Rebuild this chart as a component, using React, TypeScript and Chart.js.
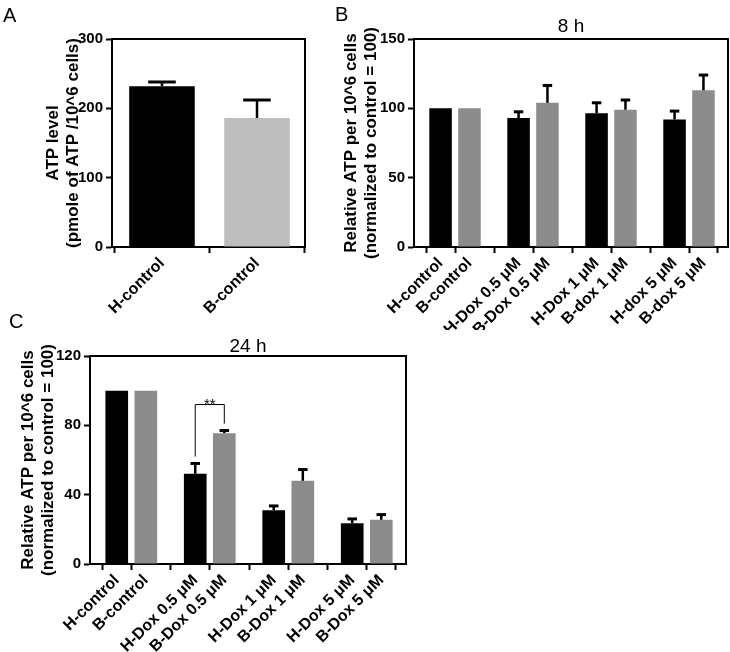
import React, { useEffect, useRef } from 'react';
import { Chart, registerables } from 'chart.js';

Chart.register(...registerables);

const FONT = "'Liberation Sans', Arial, Helvetica, sans-serif";

// ---------- Panel A ----------
const aCategories = ['H-control', 'B-control'];
const aValues = [232, 186];
const aErrors = [6, 26];
const aTicks = [0, 100, 200, 300];
const aTitle = ['ATP level', '(pmole of ATP /10^6 cells)'];

// ---------- Panel B (8 h) ----------
const bCategories = [
  'H-control', 'B-control',
  'H-Dox 0.5 \u03bcM', 'B-Dox 0.5 \u03bcM',
  'H-Dox 1 \u03bcM', 'B-dox 1 \u03bcM',
  'H-dox 5 \u03bcM', 'B-dox 5 \u03bcM',
];
const bValues8h = [100, 100, 93, 104, 96.5, 99, 92, 113];
const bErrors8h = [0, 0, 4.5, 12.5, 7.5, 7, 6, 11];
const bTicks = [0, 50, 100, 150];
const bHeading = '8 h';

// ---------- Panel C (24 h) ----------
const cCategories = [
  'H-control', 'B-control',
  'H-Dox 0.5 \u03bcM', 'B-Dox 0.5 \u03bcM',
  'H-Dox 1 \u03bcM', 'B-Dox 1 \u03bcM',
  'H-Dox 5 \u03bcM', 'B-Dox 5 \u03bcM',
];
const cValues24h = [100, 100, 52, 75.5, 31, 48, 23.5, 25.5];
const cErrors24h = [0, 0, 6, 1.5, 2.5, 6.5, 2.5, 3];
const cTicks = [0, 40, 80, 120];
const cHeading = '24 h';
const cSignificance = [{ from: 2, to: 3, top: 92, leftEnd: 62, rightEnd: 81, label: '**' }];

const relTitle = ['Relative ATP per 10^6 cells', '(normalized to control = 100)'];

// ---------- layout helpers ----------
const GROUP_GAP = 0.7;
const slotPos = (i: number) => i + Math.floor(i / 2) * GROUP_GAP;

const framePlugin = {
  id: 'frameBox',
  afterDraw(chart: any) {
    const { ctx, chartArea: a } = chart;
    ctx.save();
    ctx.strokeStyle = '#000';
    ctx.lineWidth = 2;
    ctx.beginPath();
    ctx.moveTo(a.left - 1, a.top);
    ctx.lineTo(a.right, a.top);
    ctx.lineTo(a.right, a.bottom + 1);
    ctx.stroke();
    ctx.restore();
  },
};

const errorBarPlugin = {
  id: 'errBars',
  afterDatasetsDraw(chart: any, _args: any, opts: any) {
    const errors: number[] = opts.errors || [];
    const meta = chart.getDatasetMeta(0);
    const ys = chart.scales.y;
    const values = chart.data.datasets[0].data;
    const ctx = chart.ctx;
    ctx.save();
    ctx.strokeStyle = '#000';
    meta.data.forEach((el: any, i: number) => {
      const e = errors[i];
      if (!e) return;
      const v = typeof values[i] === 'object' ? values[i].y : values[i];
      const yb = ys.getPixelForValue(v);
      const yt = ys.getPixelForValue(v + e);
      const cap = el.width * 0.42;
      ctx.lineWidth = 2.5;
      ctx.beginPath();
      ctx.moveTo(el.x, yb);
      ctx.lineTo(el.x, yt);
      ctx.stroke();
      ctx.lineWidth = 3;
      ctx.beginPath();
      ctx.moveTo(el.x - cap / 2, yt);
      ctx.lineTo(el.x + cap / 2, yt);
      ctx.stroke();
    });
    ctx.restore();
  },
};

const bracketPlugin = {
  id: 'sigBrackets',
  afterDatasetsDraw(chart: any, _args: any, opts: any) {
    const items = opts.items || [];
    const xs = chart.scales.x;
    const ys = chart.scales.y;
    const ctx = chart.ctx;
    items.forEach((b: any) => {
      const x1 = xs.getPixelForValue(slotPos(b.from));
      const x2 = xs.getPixelForValue(slotPos(b.to));
      const yt = ys.getPixelForValue(b.top);
      const yl = ys.getPixelForValue(b.leftEnd);
      const yr = ys.getPixelForValue(b.rightEnd);
      ctx.save();
      ctx.strokeStyle = '#000';
      ctx.lineWidth = 1;
      ctx.beginPath();
      ctx.moveTo(x1, yl);
      ctx.lineTo(x1, yt);
      ctx.lineTo(x2, yt);
      ctx.lineTo(x2, yr);
      ctx.stroke();
      ctx.fillStyle = '#000';
      ctx.font = `15px ${FONT}`;
      ctx.textAlign = 'center';
      ctx.textBaseline = 'alphabetic';
      ctx.fillText(b.label, (x1 + x2) / 2, yt + 4);
      ctx.restore();
    });
  },
};

type PanelCfg = {
  labels: string[];
  values: number[];
  errors: number[];
  colors: string[];
  yTicks: number[];
  xMin: number;
  xMax: number;
  barPct: number;
  yTitle: string[];
  yTitlePad: number;
  yWidth: number;
  xHeight: number;
  padding: { left: number; top: number; right: number; bottom: number };
  heading?: string;
  headingPad?: { top: number; bottom: number };
  brackets?: any[];
};

function buildChart(canvas: HTMLCanvasElement, cfg: PanelCfg) {
  const positions = cfg.labels.map((_, i) => slotPos(i));
  return new Chart(canvas, {
    type: 'bar',
    data: {
      datasets: [
        {
          data: cfg.values.map((v, i) => ({ x: positions[i], y: v })),
          backgroundColor: cfg.colors,
          borderWidth: 0,
          barPercentage: cfg.barPct,
          categoryPercentage: 1,
        },
      ],
    },
    plugins: [framePlugin, errorBarPlugin, bracketPlugin],
    options: {
      animation: false,
      responsive: false,
      devicePixelRatio: 1,
      layout: { padding: cfg.padding },
      plugins: {
        legend: { display: false },
        tooltip: { enabled: false },
        title: cfg.heading
          ? {
              display: true,
              text: cfg.heading,
              fullSize: false,
              color: '#000',
              font: { family: FONT, size: 19, weight: 'normal', lineHeight: 1 },
              padding: cfg.headingPad,
            }
          : { display: false },
        errBars: { errors: cfg.errors },
        sigBrackets: { items: cfg.brackets || [] },
      } as any,
      scales: {
        x: {
          type: 'linear',
          min: cfg.xMin,
          max: cfg.xMax,
          offset: false,
          afterBuildTicks: (scale: any) => {
            scale.ticks = positions.map((p) => ({ value: p }));
          },
          afterFit: (scale: any) => {
            scale.height = cfg.xHeight;
          },
          ticks: {
            autoSkip: false,
            minRotation: 45,
            maxRotation: 45,
            color: '#000',
            padding: 1,
            font: { family: FONT, size: 16, weight: 'bold' },
            callback: (_v: any, i: number) => cfg.labels[i],
          },
          grid: {
            drawOnChartArea: false,
            drawTicks: true,
            tickLength: 6,
            tickWidth: 2,
            tickColor: '#000',
          },
          border: { display: true, color: '#000', width: 2 },
        },
        y: {
          type: 'linear',
          min: cfg.yTicks[0],
          max: cfg.yTicks[cfg.yTicks.length - 1],
          afterBuildTicks: (scale: any) => {
            scale.ticks = cfg.yTicks.map((v) => ({ value: v }));
          },
          afterFit: (scale: any) => {
            scale.width = cfg.yWidth;
          },
          ticks: { color: '#000', padding: 3, font: { family: FONT, size: 15, weight: 'bold' } },
          grid: {
            drawOnChartArea: false,
            drawTicks: true,
            tickLength: 6,
            tickWidth: 2,
            tickColor: '#000',
          },
          border: { display: true, color: '#000', width: 2 },
          title: {
            display: true,
            text: cfg.yTitle,
            color: '#000',
            font: { family: FONT, size: 17, weight: 'bold', lineHeight: 1.15 },
            padding: { top: cfg.yTitlePad, bottom: 0 },
          },
        },
      },
    } as any,
  });
}

function Panel(props: { left: number; top: number; width: number; height: number; cfg: PanelCfg }) {
  const ref = useRef<HTMLCanvasElement>(null);
  useEffect(() => {
    const chart = buildChart(ref.current as HTMLCanvasElement, props.cfg);
    return () => chart.destroy();
  }, []);
  return (
    <canvas
      ref={ref}
      width={props.width}
      height={props.height}
      style={{ position: 'absolute', left: props.left, top: props.top, width: props.width, height: props.height }}
    />
  );
}

const pairColors = (n: number, dark: string, light: string) =>
  Array.from({ length: n }, (_, i) => (i % 2 === 0 ? dark : light));

const letterStyle = (left: number, top: number): React.CSSProperties => ({
  position: 'absolute',
  left,
  top,
  fontFamily: FONT,
  fontSize: 20,
  lineHeight: '20px',
  color: '#000',
});

export default function App() {
  const cfgA: PanelCfg = {
    labels: aCategories,
    values: aValues,
    errors: aErrors,
    colors: ['#000000', '#bdbdbd'],
    yTicks: aTicks,
    xMin: -0.526,
    xMax: 1.505,
    barPct: 0.69,
    yTitle: aTitle,
    yTitlePad: 44,
    yWidth: 112,
    xHeight: 83,
    padding: { left: 0, top: 39, right: 15, bottom: 0 },
  };
  const cfgB: PanelCfg = {
    labels: bCategories,
    values: bValues8h,
    errors: bErrors8h,
    colors: pairColors(bCategories.length, '#000000', '#8c8c8c'),
    yTicks: bTicks,
    xMin: -0.92,
    xMax: 9.95,
    barPct: 0.78,
    yTitle: relTitle,
    yTitlePad: 22,
    yWidth: 94,
    xHeight: 83,
    padding: { left: 0, top: 0, right: 2, bottom: 0 },
    heading: bHeading,
    headingPad: { top: 17, bottom: 3 },
  };
  const cfgC: PanelCfg = {
    labels: cCategories,
    values: cValues24h,
    errors: cErrors24h,
    colors: pairColors(cCategories.length, '#000000', '#8c8c8c'),
    yTicks: cTicks,
    xMin: -0.92,
    xMax: 9.95,
    barPct: 0.78,
    yTitle: relTitle,
    yTitlePad: 19,
    yWidth: 90,
    xHeight: 88,
    padding: { left: 0, top: 0, right: 14, bottom: 0 },
    heading: cHeading,
    headingPad: { top: 7, bottom: 0 },
    brackets: cSignificance,
  };
  return (
    <div style={{ position: 'absolute', left: 0, top: 0, width: 730, height: 652, background: '#fff', overflow: 'hidden' }}>
      <Panel left={0} top={0} width={320} height={330} cfg={cfgA} />
      <Panel left={320} top={0} width={410} height={330} cfg={cfgB} />
      <Panel left={0} top={330} width={420} height={322} cfg={cfgC} />
      <div style={letterStyle(3, 5)}>A</div>
      <div style={letterStyle(335, 4)}>B</div>
      <div style={letterStyle(9, 311)}>C</div>
    </div>
  );
}
